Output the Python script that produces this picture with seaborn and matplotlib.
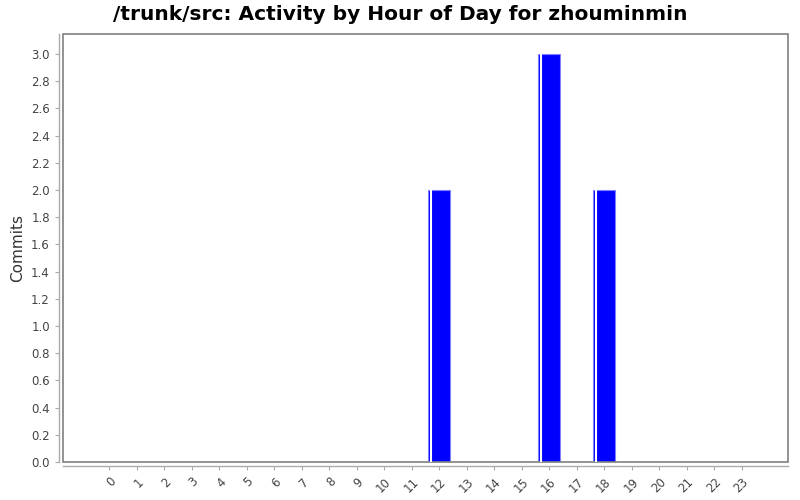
import pandas as pd
import matplotlib
matplotlib.use("Agg")
import matplotlib.pyplot as plt
import seaborn as sns
from matplotlib.patches import Rectangle

# Data
hours = [str(h) for h in range(24)]
commits = [0, 0, 0, 0, 0, 0, 0, 0, 0, 0, 0, 0, 2, 0, 0, 0, 3, 0, 2, 0, 0, 0, 0, 0]
y_ticks = [0.0, 0.2, 0.4, 0.6, 0.8, 1.0, 1.2, 1.4, 1.6, 1.8, 2.0, 2.2, 2.4, 2.6, 2.8, 3.0]

df = pd.DataFrame({"hour": hours, "commits": commits})

sns.set_style("white")
plt.rcParams['font.family'] = ['DejaVu Sans']

fig = plt.figure(figsize=(8, 5), dpi=100)
ax = fig.add_axes([63 / 800, 38 / 500, 725 / 800, 428 / 500])

sns.barplot(data=df, x="hour", y="commits", color="#0000ff", saturation=1,
            width=0.79, edgecolor="#8080ff", linewidth=0.8, ax=ax)

# white highlight stripe near the left of each bar
for p in ax.patches:
    h = p.get_height()
    if h > 0:
        x0 = p.get_x() + p.get_width() * 0.12
        ax.plot([x0, x0], [0, h], color="white", lw=1.5, solid_capstyle="butt")

ax.set_xlim(-1.68, 24.68)
ax.set_ylim(0, 3.147)
ax.set_yticks(y_ticks)
ax.set_yticklabels([f"{v:.1f}" for v in y_ticks])

ax.set_xlabel("")
ax.set_ylabel("Commits", fontsize=11, color="#333333")
fig.text(0.5, 1 - 14 / 500, "/trunk/src: Activity by Hour of Day for zhouminmin",
         fontsize=14.5, fontweight="bold", color="black", ha="center", va="center")

# offset axis lines, plot box drawn separately
for s in ["left", "bottom"]:
    ax.spines[s].set_position(("outward", 3))
    ax.spines[s].set_color("#aaaaaa")
    ax.spines[s].set_linewidth(1)
for s in ["top", "right"]:
    ax.spines[s].set_visible(False)
ax.add_patch(Rectangle((0, 0), 1, 1, transform=ax.transAxes, fill=False,
                       edgecolor="#808080", lw=1.2, clip_on=False))

ax.tick_params(axis="both", length=3, width=0.8, color="#aaaaaa",
               labelsize=8.5, labelcolor="#444444", left=True, bottom=True)
plt.setp(ax.get_xticklabels(), rotation=45, ha="right", rotation_mode="anchor")

fig.savefig("out.png", dpi=100)
